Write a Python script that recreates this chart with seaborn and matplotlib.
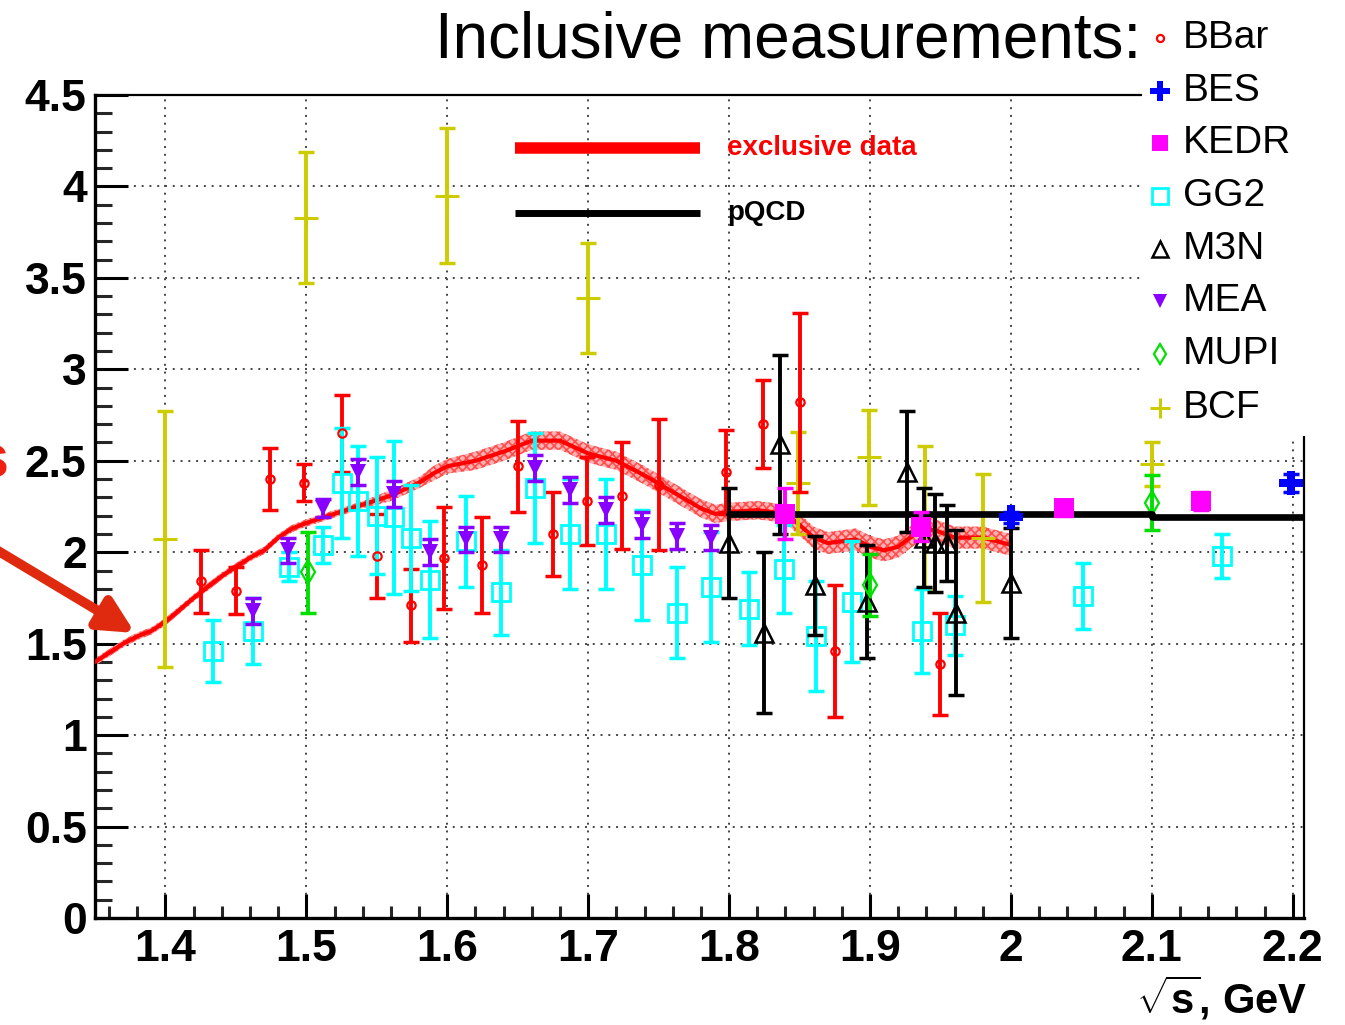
import numpy as np
import pandas as pd
import matplotlib
matplotlib.use("Agg")
import matplotlib.pyplot as plt
import seaborn as sns
from matplotlib.patches import Rectangle
from matplotlib.lines import Line2D
from matplotlib.ticker import MultipleLocator, FuncFormatter

# ---------------- data ----------------
excl_x = [1.35, 1.36, 1.37, 1.38, 1.39, 1.40, 1.42, 1.44, 1.46, 1.47, 1.48, 1.49, 1.50,
          1.52, 1.54, 1.56, 1.58, 1.59, 1.60, 1.62, 1.64, 1.66, 1.68, 1.70, 1.72, 1.74,
          1.76, 1.78, 1.79, 1.80, 1.82, 1.84, 1.85, 1.86, 1.87, 1.88, 1.89, 1.90, 1.91,
          1.92, 1.93, 1.94, 1.95, 1.96, 1.98, 2.00]
excl_y = [1.40, 1.45, 1.50, 1.54, 1.57, 1.62, 1.75, 1.87, 1.97, 2.01, 2.08, 2.13, 2.16,
          2.21, 2.26, 2.31, 2.38, 2.43, 2.47, 2.50, 2.55, 2.61, 2.61, 2.54, 2.50, 2.42,
          2.33, 2.24, 2.21, 2.22, 2.23, 2.21, 2.15, 2.08, 2.05, 2.06, 2.07, 2.03, 2.01,
          2.03, 2.09, 2.13, 2.11, 2.08, 2.08, 2.04]
excl_err = [0.02, 0.02, 0.02, 0.02, 0.02, 0.02, 0.02, 0.02, 0.02, 0.02, 0.02, 0.02, 0.02,
            0.02, 0.02, 0.03, 0.03, 0.04, 0.04, 0.05, 0.05, 0.05, 0.05, 0.05, 0.05, 0.05,
            0.05, 0.05, 0.05, 0.05, 0.05, 0.05, 0.06, 0.06, 0.06, 0.06, 0.06, 0.06, 0.06,
            0.06, 0.06, 0.06, 0.06, 0.06, 0.06, 0.06]

pqcd_x = [1.80, 2.10, 2.10, 2.21]
pqcd_y = [2.21, 2.21, 2.19, 2.19]

bbar_x = [1.425, 1.450, 1.474, 1.498, 1.525, 1.550, 1.574, 1.598, 1.625, 1.650, 1.675,
          1.699, 1.724, 1.750, 1.798, 1.824, 1.850, 1.875, 1.950]
bbar_y = [1.84, 1.79, 2.40, 2.38, 2.65, 1.98, 1.71, 1.97, 1.93, 2.47, 2.10,
          2.28, 2.31, 2.37, 2.44, 2.70, 2.82, 1.46, 1.39]
bbar_e = [0.17, 0.13, 0.17, 0.10, 0.21, 0.23, 0.20, 0.28, 0.26, 0.25, 0.23,
          0.24, 0.29, 0.36, 0.23, 0.24, 0.49, 0.36, 0.28]

bes_x = [2.000, 2.199]
bes_y = [2.19, 2.38]
bes_e = [0.03, 0.05]

kedr_x = [1.840, 1.936, 2.038, 2.135]
kedr_y = [2.21, 2.14, 2.24, 2.28]
kedr_e = [0.14, 0.08, 0.04, 0.05]

gg2_x = [1.434, 1.462, 1.488, 1.512, 1.525, 1.537, 1.550, 1.562, 1.574, 1.588, 1.613,
         1.638, 1.662, 1.687, 1.713, 1.738, 1.763, 1.787, 1.814, 1.839, 1.862, 1.887,
         1.937, 1.960, 2.051, 2.150]
gg2_y = [1.46, 1.57, 1.92, 2.04, 2.38, 2.28, 2.20, 2.19, 2.08, 1.85, 2.06,
         1.78, 2.35, 2.10, 2.10, 1.93, 1.67, 1.81, 1.69, 1.91, 1.54, 1.73,
         1.57, 1.60, 1.76, 1.98]
gg2_e = [0.17, 0.18, 0.08, 0.10, 0.30, 0.30, 0.32, 0.42, 0.29, 0.32, 0.25,
         0.23, 0.30, 0.30, 0.30, 0.30, 0.25, 0.30, 0.20, 0.24, 0.30, 0.33,
         0.23, 0.16, 0.18, 0.12]

m3n_x = [1.800, 1.825, 1.836, 1.861, 1.898, 1.926, 1.938, 1.946, 1.955, 1.961, 2.000]
m3n_y = [2.05, 1.56, 2.59, 1.82, 1.73, 2.44, 2.08, 2.05, 2.05, 1.67, 1.83]
m3n_e = [0.30, 0.44, 0.49, 0.27, 0.31, 0.33, 0.27, 0.27, 0.21, 0.45, 0.30]

mea_x = [1.462, 1.487, 1.512, 1.537, 1.562, 1.588, 1.613, 1.638, 1.662, 1.687, 1.713,
         1.738, 1.763, 1.787]
mea_y = [1.68, 2.01, 2.24, 2.44, 2.32, 2.00, 2.07, 2.07, 2.46, 2.34, 2.23,
         2.15, 2.09, 2.08]
mea_e = [0.07, 0.07, 0.05, 0.07, 0.07, 0.07, 0.07, 0.07, 0.07, 0.07, 0.07,
         0.07, 0.07, 0.07]

mupi_x = [1.501, 1.900, 2.100]
mupi_y = [1.89, 1.82, 2.27]
mupi_e = [0.22, 0.17, 0.15]

bcf_x = [1.400, 1.500, 1.600, 1.700, 1.849, 1.899, 1.939, 1.980, 2.100]
bcf_y = [2.07, 3.83, 3.95, 3.39, 2.38, 2.52, 2.19, 2.08, 2.48]
bcf_e = [0.70, 0.36, 0.37, 0.30, 0.28, 0.26, 0.39, 0.35, 0.12]

legend_names = ["BBar", "BES", "KEDR", "GG2", "M3N", "MEA", "MUPI", "BCF"]
x_ticks = [1.4, 1.5, 1.6, 1.7, 1.8, 1.9, 2.0, 2.1, 2.2]
y_ticks = [0, 0.5, 1, 1.5, 2, 2.5, 3, 3.5, 4, 4.5]

# ---------------- style ----------------
sns.set_theme(style="white")
plt.rcParams["font.family"] = ["Liberation Sans", "DejaVu Sans"]
plt.rcParams["font.weight"] = "bold"
plt.rcParams["mathtext.fontset"] = "custom"
plt.rcParams["mathtext.rm"] = "Liberation Sans:bold"
plt.rcParams["mathtext.bf"] = "Liberation Sans:bold"
plt.rcParams["hatch.linewidth"] = 1.2

W, H = 1345, 1025
def fx(px):
    return px / W
def fy(py):
    return 1 - py / H

fig = plt.figure(figsize=(13.45, 10.25), dpi=100)
ax = fig.add_axes([fx(95), fy(918), fx(1304) - fx(95), fy(95) - fy(918)])

styles = {
    "BBar": dict(color="#ff0000", marker="o", ms=6, mfc="none", mew=1.6),
    "BES":  dict(color="#0000ff", marker="P", ms=17, mfc="#0000ff", mew=0),
    "KEDR": dict(color="#ff00ff", marker="s", ms=14, mfc="#ff00ff", mew=0),
    "GG2":  dict(color="#00ffff", marker="s", ms=13, mfc="none", mew=2.0),
    "M3N":  dict(color="#000000", marker="^", ms=13, mfc="none", mew=1.8),
    "MEA":  dict(color="#8800ff", marker="v", ms=12, mfc="#8800ff", mew=0),
    "MUPI": dict(color="#00e000", marker="d", ms=12, mfc="none", mew=1.6),
    "BCF":  dict(color="#cccc00", marker="+", ms=17, mfc="none", mew=2.2),
}
series = {
    "BBar": (bbar_x, bbar_y, bbar_e),
    "BES": (bes_x, bes_y, bes_e),
    "KEDR": (kedr_x, kedr_y, kedr_e),
    "GG2": (gg2_x, gg2_y, gg2_e),
    "M3N": (m3n_x, m3n_y, m3n_e),
    "MEA": (mea_x, mea_y, mea_e),
    "MUPI": (mupi_x, mupi_y, mupi_e),
    "BCF": (bcf_x, bcf_y, bcf_e),
}
zorders = {"BBar": 5, "BES": 9, "KEDR": 8, "GG2": 5, "M3N": 6, "MEA": 6, "MUPI": 6, "BCF": 4}

# exclusive data band + curve
ex = np.array(excl_x); ey = np.array(excl_y); ee = np.array(excl_err)
ax.fill_between(ex, ey - ee, ey + ee, facecolor="#ffb0b0", edgecolor="#ff4d4d",
                hatch="xxxx", linewidth=0, zorder=2)
sns.lineplot(x=excl_x, y=excl_y, ax=ax, color="#ff0000", lw=3.0, estimator=None,
             sort=False, zorder=3)

# measurements
for name in legend_names:
    xs, ys, es = series[name]
    st = styles[name]
    ax.errorbar(xs, ys, yerr=es, fmt="none", ecolor=st["color"], elinewidth=2.8,
                capsize=6, capthick=2.5, zorder=zorders[name])
    ax.plot(xs, ys, linestyle="none", marker=st["marker"], ms=st["ms"],
            mfc=st["mfc"], mec=st["color"], mew=st["mew"], zorder=zorders[name] + 0.5)

# pQCD
sns.lineplot(x=pqcd_x, y=pqcd_y, ax=ax, color="black", lw=4.8, estimator=None,
             sort=False, zorder=7)

# axes
ax.set_xlim(1.35, 2.208)
ax.set_ylim(0, 4.5)
ax.set_xticks(x_ticks)
ax.set_yticks(y_ticks)
ax.xaxis.set_minor_locator(MultipleLocator(0.02))
ax.yaxis.set_minor_locator(MultipleLocator(0.1))
fmt = FuncFormatter(lambda v, p: f"{v:g}")
ax.xaxis.set_major_formatter(fmt)
ax.yaxis.set_major_formatter(fmt)
ax.tick_params(axis="y", which="major", direction="in", length=24, width=2.2,
               labelsize=32, pad=6, left=True, right=False, colors="black")
ax.tick_params(axis="y", which="minor", direction="in", length=12, width=2.2,
               left=True, right=False)
ax.tick_params(axis="x", which="major", direction="in", length=17, width=2.2,
               labelsize=32, pad=8, bottom=True, top=False, colors="black")
ax.tick_params(axis="x", which="minor", direction="in", length=9, width=2.2,
               bottom=True, top=False)
ax.grid(True, which="major", color="#444444", linestyle=(0, (1, 3)), linewidth=1.4)
ax.set_axisbelow(True)
for side in ["left", "bottom"]:
    ax.spines[side].set_linewidth(2.4)
    ax.spines[side].set_color("black")
for side in ["top", "right"]:
    ax.spines[side].set_linewidth(1.6)
    ax.spines[side].set_color("black")
ax.set_xlabel("")
ax.set_ylabel("")

# inner legend
ax.plot([0.347, 0.500], [0.9356, 0.9356], transform=ax.transAxes, color="#ff0000",
        lw=8.3, solid_capstyle="butt", zorder=10)
ax.plot([0.347, 0.500], [0.8566, 0.8566], transform=ax.transAxes, color="black",
        lw=5, solid_capstyle="butt", zorder=10)
ax.text(0.5227, 0.9356, "exclusive data", transform=ax.transAxes, color="#ff0000",
        fontsize=20, fontweight="bold", va="center", ha="left", zorder=10)
ax.text(0.5227, 0.8566, "pQCD", transform=ax.transAxes, color="black",
        fontsize=20, fontweight="bold", va="center", ha="left", zorder=10)

# outer legend box (covers the frame corner)
fig.add_artist(Rectangle((fx(1142), fy(436)), 1 - fx(1142), 1 - fy(436),
                         transform=fig.transFigure, facecolor="white",
                         edgecolor="none", zorder=5))
rows = [38, 91, 143, 196, 249, 301, 354, 408]
for name, ry in zip(legend_names, rows):
    st = styles[name]
    fig.add_artist(Line2D([fx(1160)], [fy(ry)], transform=fig.transFigure,
                          linestyle="none", marker=st["marker"], ms=st["ms"] * 0.85,
                          mfc=st["mfc"], mec=st["color"], mew=st["mew"], zorder=6))
    fig.text(fx(1183), fy(ry), name, ha="left", va="center", fontsize=28,
             fontweight="normal", color="black", zorder=6)

fig.text(fx(1141), fy(58), "Inclusive measurements:", ha="right", va="baseline",
         fontsize=46, fontweight="normal", color="black", zorder=6)

# x-axis title
fig.text(fx(1307), fy(1014), r"$\sqrt{\mathbf{s}}$, GeV", ha="right", va="baseline",
         fontsize=30, fontweight="bold", color="black")

# cut-off annotation at the left edge
fig.text(fx(9), fy(462), "s", ha="right", va="center", fontsize=44,
         fontweight="bold", color="#f02010")
ax.annotate("", xy=(135, H - 633), xycoords="figure pixels",
            xytext=(-20, H - 540), textcoords="figure pixels",
            arrowprops=dict(arrowstyle="-|>,head_length=0.5,head_width=0.25",
                            color="#e02a10", lw=7, mutation_scale=42,
                            shrinkA=0, shrinkB=0),
            annotation_clip=False, zorder=12)

fig.savefig("out.png", dpi=100)
